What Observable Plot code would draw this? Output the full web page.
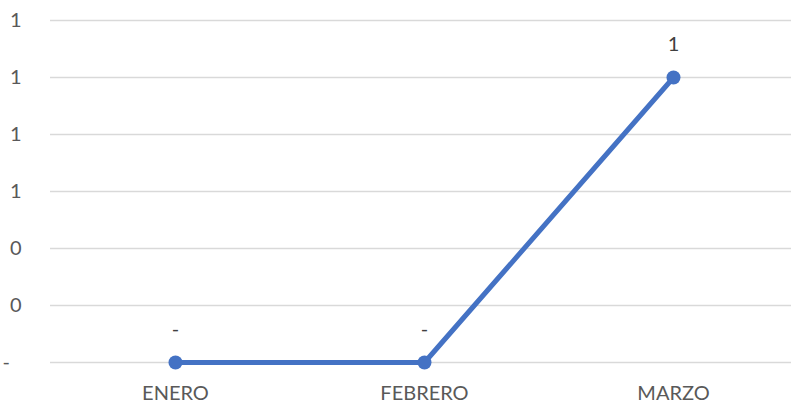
<!DOCTYPE html>
<html>
<head>
<meta charset="utf-8">
<script src="https://cdn.jsdelivr.net/npm/d3@7"></script>
<script src="https://cdn.jsdelivr.net/npm/@observablehq/plot@0.6"></script>
<style>
  html, body { margin: 0; padding: 0; background: #fff; overflow: hidden; }
  svg text { font-family: Lato, "Open Sans", sans-serif !important; font-size: 20px !important; }
</style>
</head>
<body>
<div id="chart"></div>
<script>
const months = ["ENERO", "FEBRERO", "MARZO"];
const values = [0, 0, 1];
const yTicks = [0, 0.2, 0.4, 0.6, 0.8, 1.0, 1.2];

const data = months.map((m, i) => ({month: m, value: values[i]}));
const fmt = v => v === 0 ? "-" : d3.format(".0f")(v);
const fmtAxis = v => v === 0 ? "-\u2007" : d3.format(".0f")(v);

const chart = Plot.plot({
  width: 791,
  height: 400,
  marginLeft: 50,
  marginRight: -6,
  marginTop: 20,
  marginBottom: 38,
  style: {color: "#595959", overflow: "visible"},
  x: {type: "point", domain: months, padding: 0.5, label: null},
  y: {domain: [0, 1.2], label: null},
  marks: [
    Plot.ruleY(yTicks, {stroke: "#d9d9d9", strokeWidth: 1.3}),
    Plot.axisY(yTicks, {tickSize: 0, tickPadding: 29, tickFormat: fmtAxis, fill: "#595959", label: null}),
    Plot.axisX({tickSize: 0, tickPadding: 23, fill: "#595959", label: null}),
    Plot.line(data, {x: "month", y: "value", stroke: "#4472C4", strokeWidth: 5, strokeLinejoin: "round", strokeLinecap: "round"}),
    Plot.dot(data, {x: "month", y: "value", r: 7, fill: "#4472C4", stroke: "none"}),
    Plot.text(data, {x: "month", y: "value", text: d => fmt(d.value), dy: -33, fill: "#404040"})
  ]
});
document.getElementById("chart").appendChild(chart);
</script>
</body>
</html>
